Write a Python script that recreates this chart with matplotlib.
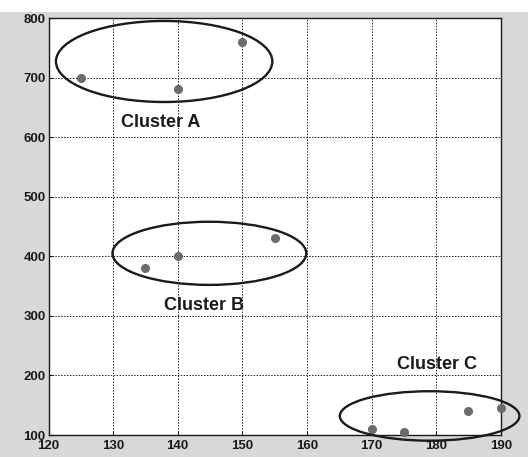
import matplotlib
matplotlib.use("Agg")
import matplotlib.pyplot as plt
from matplotlib.patches import Ellipse, Rectangle

# data points per cluster
a_x = [125, 140, 150]
a_y = [700, 680, 760]
b_x = [135, 140, 155]
b_y = [380, 400, 430]
c_x = [170, 175, 185, 190]
c_y = [110, 105, 140, 145]

# ellipse outlines: (center x, center y, width, height)
ellipses = [(137.9, 727, 33.5, 136), (144.9, 405, 30, 106), (179, 132, 27.8, 83)]
labels = ["Cluster A", "Cluster B", "Cluster C"]
label_pos = [(137.3, 624), (144.1, 317), (180.2, 218)]

fig = plt.figure(figsize=(5.28, 4.57), dpi=100, facecolor="#d8d8d8")
fig.patches.append(Rectangle((0, 1 - 12 / 457), 1, 12 / 457, transform=fig.transFigure,
                             facecolor="white", edgecolor="none", zorder=0))
ax = fig.add_axes([0.0919, 0.0481, 0.8564, 0.9125])
ax.set_facecolor("white")

for xs, ys in [(a_x, a_y), (b_x, b_y), (c_x, c_y)]:
    ax.plot(xs, ys, "o", color="#6b6b6b", markersize=5.5, zorder=3, clip_on=False)

for (cx, cy, w, h) in ellipses:
    ax.add_patch(Ellipse((cx, cy), w, h, fill=False, edgecolor="#1a1a1a", linewidth=1.7,
                         zorder=4, clip_on=False))

for text, (tx, ty) in zip(labels, label_pos):
    ax.text(tx, ty, text, ha="center", va="center", fontsize=13, fontweight="bold",
            family="Liberation Sans", color="#1a1a1a")

ax.set_xlim(120, 190)
ax.set_ylim(100, 800)
ax.set_xticks(range(120, 191, 10))
ax.set_yticks(range(100, 801, 100))
ax.grid(True, color="#222222", linestyle=(0, (1.5, 1.5)), linewidth=0.7)
ax.tick_params(direction="in", length=3, labelsize=9.5, colors="#1a1a1a")
ax.tick_params(axis="x", pad=3.5)
ax.tick_params(axis="y", pad=2)
for lab in ax.get_xticklabels() + ax.get_yticklabels():
    lab.set_fontweight("bold")
    lab.set_family("Liberation Sans")
for s in ax.spines.values():
    s.set_color("#1a1a1a")
    s.set_linewidth(1.0)

fig.savefig("out.png", dpi=100, facecolor=fig.get_facecolor())
